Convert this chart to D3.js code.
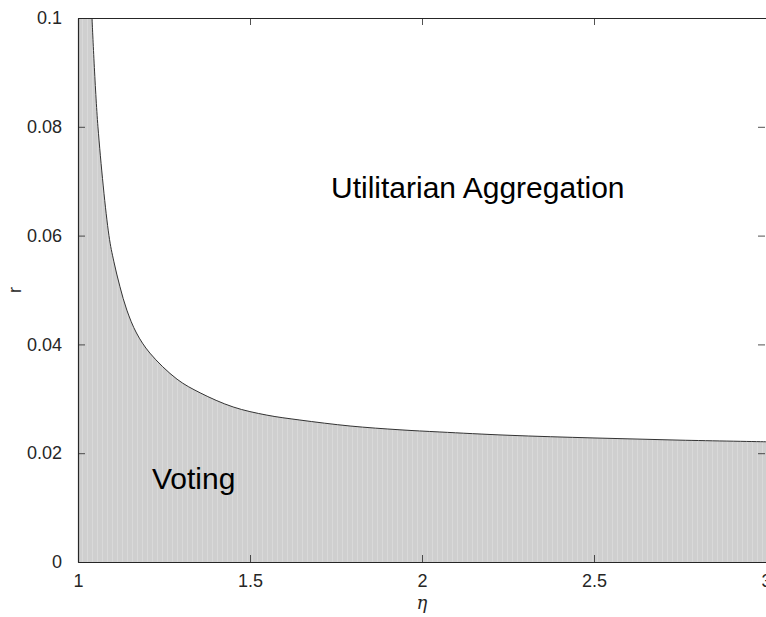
<!DOCTYPE html>
<html>
<head>
<meta charset="utf-8">
<script src="https://cdn.jsdelivr.net/npm/d3@7"></script>
<style>
  body { margin: 0; background: #fff; }
  text { font-family: "Liberation Sans", Arial, sans-serif; }
</style>
</head>
<body>
<div id="chart"></div>
<script>
// boundary curve
var eta = [1.0407, 1.058, 1.09, 1.104, 1.122, 1.142, 1.17, 1.209, 1.288, 1.355, 1.451, 1.549, 1.645, 1.791, 1.936, 2.052, 2.25, 2.5, 2.75, 3];
var rVals = [0.1, 0.08, 0.06, 0.0553, 0.0506, 0.0463, 0.0421, 0.0384, 0.0336, 0.0311, 0.0285, 0.0270, 0.0261, 0.0250, 0.0243, 0.0239, 0.0233, 0.0228, 0.0224, 0.0221];
var xTicks = [1, 1.5, 2, 2.5, 3];
var yTicks = [0, 0.02, 0.04, 0.06, 0.08, 0.1];
var xTickLabels = ["1", "1.5", "2", "2.5", "3"];
var yTickLabels = ["0", "0.02", "0.04", "0.06", "0.08", "0.1"];

var W = 766, H = 617;
var mLeft = 78, mRight = 766, mTop = 18, mBottom = 562;
var axisColor = "#262626";

var svg = d3.select("#chart").append("svg")
  .attr("width", W).attr("height", H);

var x = d3.scaleLinear().domain([1, 3]).range([mLeft, mRight]);
var y = d3.scaleLinear().domain([0, 0.1]).range([mBottom, mTop]);

var defs = svg.append("defs");
defs.append("clipPath").attr("id", "plotclip")
  .append("rect")
  .attr("x", mLeft).attr("y", mTop)
  .attr("width", mRight - mLeft).attr("height", mBottom - mTop);

// stripe pattern for the shaded region
var pat = defs.append("pattern")
  .attr("id", "stripes")
  .attr("patternUnits", "userSpaceOnUse")
  .attr("width", 5).attr("height", 10);
pat.append("rect").attr("width", 5).attr("height", 10).attr("fill", "#cfcfcf");
pat.append("rect").attr("x", 2).attr("width", 1).attr("height", 10).attr("fill", "#d9d9d9");

var pts = eta.map(function(e, i) { return [e, rVals[i]]; });
var smooth = d3.curveCatmullRom.alpha(0.5);

var plot = svg.append("g").attr("clip-path", "url(#plotclip)");

// shaded region: full height strip up to where the curve enters, then under the curve
var area = d3.area()
  .x(function(d) { return x(d[0]); })
  .y0(y(0))
  .y1(function(d) { return y(d[1]); })
  .curve(smooth);

plot.append("rect")
  .attr("x", x(1)).attr("y", y(0.1))
  .attr("width", x(eta[0]) - x(1) + 0.5)
  .attr("height", y(0) - y(0.1))
  .attr("fill", "url(#stripes)");

plot.append("path")
  .datum(pts)
  .attr("d", area)
  .attr("fill", "url(#stripes)");

var line = d3.line()
  .x(function(d) { return x(d[0]); })
  .y(function(d) { return y(d[1]); })
  .curve(smooth);

plot.append("path")
  .datum(pts)
  .attr("d", line)
  .attr("fill", "none")
  .attr("stroke", "#333")
  .attr("stroke-width", 1);

// axes (MATLAB style, ticks inside)
var xAxis = d3.axisBottom(x).tickValues(xTicks)
  .tickFormat(function(d, i) { return xTickLabels[i]; })
  .tickSizeInner(-7).tickSizeOuter(0).tickPadding(12);
svg.append("g").attr("transform", "translate(0," + mBottom + ")").call(xAxis);

var yAxis = d3.axisLeft(y).tickValues(yTicks)
  .tickFormat(function(d, i) { return yTickLabels[i]; })
  .tickSizeInner(-7).tickSizeOuter(0).tickPadding(16);
svg.append("g").attr("transform", "translate(" + mLeft + ",0)").call(yAxis);

var yAxisR = d3.axisRight(y).tickValues(yTicks).tickFormat("")
  .tickSizeInner(-7).tickSizeOuter(0);
svg.append("g").attr("transform", "translate(" + (mRight - 1) + ",0)").call(yAxisR)
  .select(".domain").remove();

var xAxisT = d3.axisTop(x).tickValues(xTicks).tickFormat("")
  .tickSizeInner(-7).tickSizeOuter(0);
svg.append("g").attr("transform", "translate(0," + mTop + ")").call(xAxisT);

svg.selectAll(".domain").attr("stroke", axisColor).attr("stroke-width", 1.2);
svg.selectAll(".tick line").attr("stroke", axisColor).attr("stroke-width", 0.8);
svg.selectAll(".tick text").attr("fill", axisColor).style("font-size", "18px");

// axis labels
svg.append("text")
  .attr("x", x(2)).attr("y", 609)
  .attr("text-anchor", "middle")
  .style("font-family", "'DejaVu Serif', 'Liberation Serif', serif")
  .style("font-style", "italic")
  .style("font-size", "18px")
  .attr("fill", axisColor)
  .text("η");

svg.append("text")
  .attr("transform", "translate(21," + y(0.05) + ") rotate(-90)")
  .attr("text-anchor", "middle")
  .style("font-size", "18px")
  .attr("fill", axisColor)
  .text("r");

// region labels
svg.append("text")
  .attr("x", 331).attr("y", 198)
  .style("font-size", "30px")
  .attr("fill", "#000")
  .text("Utilitarian Aggregation");

svg.append("text")
  .attr("x", 152).attr("y", 489)
  .style("font-size", "30px")
  .attr("fill", "#000")
  .text("Voting");
</script>
</body>
</html>
